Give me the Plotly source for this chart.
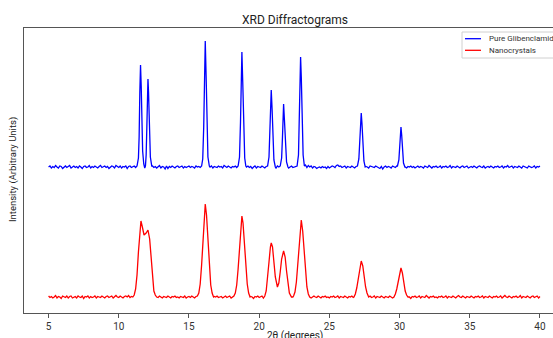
import numpy as np
import plotly.graph_objects as go

# ---------------- data ----------------
two_theta = np.linspace(5, 40, 351)  # 0.1 degree grid

pure_noise = [
    0, 1, -1, 0.5, -0.5, 1.5, 0, -1, 1, 0.5, -1.5, 0, 1, -0.5, 0.5, 1.5, -1, 0, 1, -0.5,
    0.5, -1, 1, 0, -1.5, 0.5, 1, -0.5, 0, 1.5, -1, 0.5, -0.5, 1, 0, -1, 0.5, 1.5, -0.5, 0,
    1, -0.5, 0.5, -1.5, 0, 1, 0.5, -1, 1.5, 0, -0.5, 1, -1, 0.5, 0, 1, -1.5, 0.5, 1, -0.5,
    0, 1, -0.5, 0.5, -1, 0, 1, 0.5, -1, 0, -1.5, 0.5, -1, 0, 1, -0.5, 0.5, -1, 0, 1.5,
    -1, 0.5, 0, -2, 1, -1.5, 0.5, -0.5, 1, 0, -1, 0.5, 1, -0.5, 0, 1, -1, 0.5, -0.5, 0,
    1, -0.5, 0.5, 0, -1, 1, 0, 0.5, -0.5, 1, 0, -1, 0.5, 1, -0.5, 0, 1, -1, 0.5, 0,
    -0.5, 1, 0, 0.5, -1, 1.5, 0, -0.5, 1, 0, -1, 0.5, 0, 1, -0.5, 0.5, -1, 0, 1, 0.5,
    -1, 0, 1, -0.5, 0.5, -1.5, 0, 1, -1, 0.5, 0, -0.5, 1, 0, -1, 0.5, -0.5, 1, 0, -1,
    0.5, 0, -1, 1, 0, -0.5, 0.5, 1, -1, 0, 0.5, -1, 0, 1, -0.5, 0, 1, -1, 0.5, 0,
    -0.5, 1, 0, 2, -0.5, 1.5, 0, 1, -1, 0.5, 0, -1.5, -0.5, 0, -1, 0.5, -0.5, 0, -1.5, 0.5,
    -1, 0, 1, 0.5, -0.5, 1.5, 2, 0.5, 1, -0.5, 0, 1, -1, 0.5, 0, -0.5, 1, 0, -1, 0.5,
    0, 1, -0.5, 0, 1, -1, 0.5, 0, -1, 1, 0.5, 0, -0.5, 1, 0, -1, -1.5, 0.5, -2, 0,
    1, -0.5, 0.5, 0, -1, 1, 0, -0.5, 1, -1, 0, 0.5, -0.5, 1, 0, -1, 0.5, 0, 1, -0.5,
    0.5, -1, 0, 1, -0.5, 0.5, 0, -1, 1, 0, -0.5, 1.5, 0, -1, 0.5, 0, 1, -0.5, 0, 1,
    -1, 0.5, 0, 1, -0.5, 0, 1.5, -1, 0.5, 0, -0.5, 1, 0, -1, 0.5, 1, -0.5, 0, 1, -1,
    0, 0.5, -0.5, 1, 0, -1, 0.5, 1, 0, -0.5, 1, -1, 0, 0.5, -0.5, 1, 0, -1, 0.5, 0,
    1, -0.5, 0, 1, -1, 0.5, 0, 1.5, -0.5, 0, 1, -1, 0.5, 0, -0.5, 1, 0, -1, 1, 0.5,
    0, -1, 1, 0.5, -0.5, 0, 1, -1, 0.5, 0, 1,
]

nano_noise = [
    1, -0.5, 0.5, -1, 0, 1.5, -1, 0.5, 0, -1.5, 1, 0, -0.5, 1, -1, 0.5, 1, -1, 0, 0.5,
    -1, 1, 0, -0.5, 1, -1.5, 0.5, 0, 1, -1, 0.5, -0.5, 0, 1, -1, 0.5, 0, -0.5, 1, 0,
    -1, 0.5, 1, -0.5, 0, 1, -1, 0.5, 1.5, 0, -0.5, 1, 0, -1, 0.5, 1, 0, 1.5, -0.5, 0.5,
    0, 1, -0.5, 1, 0, -1, 0.5, 0, 1, -1, 0.5, 0, -0.5, 1, 0, -1, 0.5, 0, -0.5, 1,
    0, -1, 0.5, 0, -0.5, 1, 0, -1, 0.5, 0, 1, -0.5, 0, -1, 0.5, 0, -0.5, 1, -1, 0,
    0.5, -0.5, 1, 0, -1, 0.5, 0, -0.5, 1, 0, 0.5, -1, 0, 1, -0.5, 0.5, 0, -1, 0.5, 0,
    1, -0.5, 0, 0.5, -1, 0, 1, -0.5, 0, 1, -1, 0.5, 0, -0.5, 1, 0, -1, 0.5, 0, 1,
    -0.5, 0, 1, -1, 0.5, 0, -1.5, 0.5, 0, 1, -0.5, 0, 1, -1, 0, 0.5, -0.5, 1, 0, -1,
    0.5, 0, -1, 0.5, 0, 1, -0.5, 0, 1, -1, 0.5, 0, -0.5, 1, 0, -1, 0.5, 0, -0.5, 1,
    0, -1, 0.5, 0, 1, -0.5, 0, -1, 0.5, 1, 0, -0.5, 1, 0, -1, 0.5, 0, 1, -0.5, 0,
    -1, 0.5, 0, 1, -0.5, 0, 1, -1, 0.5, 0, -0.5, 1, 0, -1, 0.5, 0, 1, -0.5, 0, 1,
    -1, 0, 0.5, -0.5, 1, 0, -1, 0.5, 0, 1, -0.5, 0, 1, -1, 0.5, 0, -0.5, 1, 0, -1,
    0.5, 0, -0.5, 1, 0, -1, 0.5, 0, 1, -0.5, 0, 1, -1, 0.5, 0, -0.5, 1, 0, -1.5, 0.5,
    0, 1, -0.5, 0, 1, -1, 0.5, 0, -0.5, 1.5, 0, -1, 0.5, 0, 1, -0.5, 0, -1, 0.5, 0,
    1, -0.5, 0, 1, -1, 0.5, 0, -0.5, 1, 0, -1, 0.5, 1.5, 0, -0.5, 1, 0, -1, 0.5, 0,
    -0.5, 1, 0, -1, 0.5, 0, 1, -0.5, 0, 1, -1, 0.5, 0, -0.5, 1, 0, -1, 0.5, 0, 1,
    -0.5, 0, 1, -1, 0.5, 1.5, 0, -0.5, 1, 0, -1, 0.5, 0, 1, -0.5, 0, 1.5, -1, 0.5, 0,
    -0.5, 1, 0, -1, 0.5, 1, -0.5, 0, 1, -1, 0.5,
]

# peak profiles (2theta, intensity above baseline)
pure_peak_x = [
    [11.3, 11.4, 11.45, 11.5, 11.55, 11.6, 11.65, 11.7, 11.78, 11.85,
     11.9, 11.95, 12.0, 12.05, 12.08, 12.12, 12.18, 12.25, 12.35],
    [15.9, 15.98, 16.05, 16.1, 16.16, 16.22, 16.28, 16.35, 16.45],
    [18.5, 18.6, 18.67, 18.72, 18.77, 18.83, 18.9, 18.97, 19.05],
    [20.6, 20.7, 20.77, 20.82, 20.86, 20.92, 20.98, 21.05, 21.15],
    [21.5, 21.6, 21.66, 21.7, 21.74, 21.8, 21.87, 21.95, 22.05],
    [22.7, 22.8, 22.86, 22.91, 22.95, 23.0, 23.06, 23.13, 23.22],
    [27.0, 27.1, 27.17, 27.22, 27.27, 27.32, 27.38, 27.46, 27.55],
    [29.85, 29.95, 30.02, 30.06, 30.1, 30.15, 30.21, 30.28, 30.38],
]
pure_peak_y = [
    [1, 9, 30, 75, 102, 80, 45, 16, 3, -1,
     1, 12, 40, 78, 88, 75, 38, 10, 1],
    [1, 8, 40, 95, 126, 92, 40, 10, 1],
    [1, 10, 45, 90, 115, 85, 38, 9, 1],
    [1, 10, 35, 62, 77, 58, 27, 7, 0],
    [1, 9, 30, 52, 63, 47, 20, 5, 0],
    [1, 12, 45, 88, 110, 90, 45, 12, 1],
    [1, 8, 25, 45, 54, 44, 22, 6, 0],
    [1, 7, 20, 33, 40, 32, 16, 4, 0],
]

nano_peak_x = [
    [11.0, 11.1, 11.2, 11.3, 11.4, 11.5, 11.58, 11.68, 11.8, 11.95,
     12.08, 12.2, 12.3, 12.4, 12.5, 12.6, 12.7],
    [15.6, 15.7, 15.8, 15.9, 16.0, 16.1, 16.16, 16.25, 16.35, 16.45, 16.55, 16.65, 16.75],
    [18.2, 18.3, 18.4, 18.5, 18.6, 18.7, 18.77, 18.85, 18.95, 19.05, 19.15, 19.25, 19.35],
    [20.4, 20.5, 20.6, 20.7, 20.8, 20.86, 20.95, 21.05, 21.15, 21.3,
     21.4, 21.5, 21.6, 21.74, 21.85, 21.95, 22.05, 22.15, 22.3],
    [22.45, 22.55, 22.65, 22.75, 22.85, 22.95, 23.0, 23.1, 23.2, 23.3, 23.4, 23.5, 23.6],
    [26.75, 26.85, 26.95, 27.05, 27.15, 27.27, 27.38, 27.48, 27.58, 27.68, 27.8],
    [29.6, 29.7, 29.8, 29.9, 30.0, 30.1, 30.2, 30.3, 30.4, 30.5, 30.6],
]
nano_peak_y = [
    [0, 2, 8, 22, 45, 66, 76, 70, 62, 64,
     67, 58, 40, 18, 6, 2, 0],
    [1, 4, 13, 32, 58, 85, 93, 82, 55, 30, 12, 4, 0],
    [1, 4, 12, 28, 52, 76, 81, 74, 52, 30, 13, 4, 0],
    [1, 6, 18, 35, 50, 54, 50, 36, 20, 10,
     14, 25, 38, 46, 40, 26, 12, 4, 0],
    [1, 5, 15, 33, 55, 74, 77, 66, 45, 25, 10, 3, 0],
    [0, 3, 9, 18, 29, 36, 31, 20, 10, 4, 0],
    [0, 3, 8, 16, 25, 29, 24, 14, 6, 2, 0],
]

series_names = ["Pure Glibenclamide", "Nanocrystals"]
series_colors = ["#0000ff", "#ff0000"]
pure_offset = 130  # vertical stacking offset of the upper trace


def build(noise, peak_x, peak_y, offset):
    pts = [(x, y) for x, y in zip(two_theta, noise)
           if not any(g[0] <= x <= g[-1] for g in peak_x)]
    for gx, gy in zip(peak_x, peak_y):
        pts += list(zip(gx, gy))
    pts.sort()
    return [p[0] for p in pts], [p[1] + offset for p in pts]


px_, py_ = build(pure_noise, pure_peak_x, pure_peak_y, pure_offset)
nx_, ny_ = build(nano_noise, nano_peak_x, nano_peak_y, 0)

fig = go.Figure()
fig.add_trace(go.Scatter(x=px_, y=py_, mode="lines", name=series_names[0],
                         line=dict(color=series_colors[0], width=1.3)))
fig.add_trace(go.Scatter(x=nx_, y=ny_, mode="lines", name=series_names[1],
                         line=dict(color=series_colors[1], width=1.3)))

# ---------------- layout ----------------
W, H = 553, 338
ML, MT, MB = 24, 28, 25
PW, PH = W - ML, H - MT - MB


def fx(px):
    return (px - ML) / PW


def fy(py):
    return (H - MB - py) / PH


FONT = "Roboto"
axis_col = "#555555"

fig.update_layout(
    width=W, height=H,
    margin=dict(l=ML, r=0, t=MT, b=MB),
    plot_bgcolor="white", paper_bgcolor="white",
    showlegend=False,
    font=dict(family=FONT, size=10, color="#333333"),
)
fig.update_xaxes(range=[3.25, 3.25 + PW / 14.04], tickvals=[5, 10, 15, 20, 25, 30, 35, 40],
                 ticks="outside", ticklen=3.5, tickcolor=axis_col, showline=True,
                 linecolor=axis_col, linewidth=1, mirror=True, showgrid=False,
                 zeroline=False, tickfont=dict(size=10, color="#333333"))
fig.update_yaxes(range=[-16, 269], showticklabels=False, ticks="", showline=True,
                 linecolor=axis_col, linewidth=1, showgrid=False, zeroline=False)

ann = [
    dict(text="XRD Diffractograms", x=fx(294.5), y=fy(20), font=dict(size=12, color="#222222")),
    dict(text="Intensity (Arbitrary Units)", x=fx(13), y=fy(170), textangle=-90,
         font=dict(size=9.5, color="#222222")),
    dict(text="2θ (degrees)", x=fx(295), y=fy(336), font=dict(size=10, color="#222222")),
]
for a in ann:
    a.update(xref="paper", yref="paper", showarrow=False, xanchor="center", yanchor="middle")
    fig.add_annotation(**a)

# legend drawn manually (it is cropped at the right edge in the reference)
fig.add_shape(type="rect", xref="paper", yref="paper", x0=fx(462), x1=fx(580),
              y0=fy(58), y1=fy(32), fillcolor="rgba(255,255,255,0.9)",
              line=dict(color="#d0d0d0", width=1))
for i, (name, col) in enumerate(zip(series_names, series_colors)):
    yy = fy(38.7 + i * 11.6)
    fig.add_shape(type="line", xref="paper", yref="paper", x0=fx(465), x1=fx(481),
                  y0=yy, y1=yy, line=dict(color=col, width=1.3))
    fig.add_annotation(text=name, xref="paper", yref="paper", x=fx(487), y=yy,
                       xanchor="left", yanchor="middle", showarrow=False,
                       font=dict(size=8, color="#333333"))

fig.write_html("out.html")
